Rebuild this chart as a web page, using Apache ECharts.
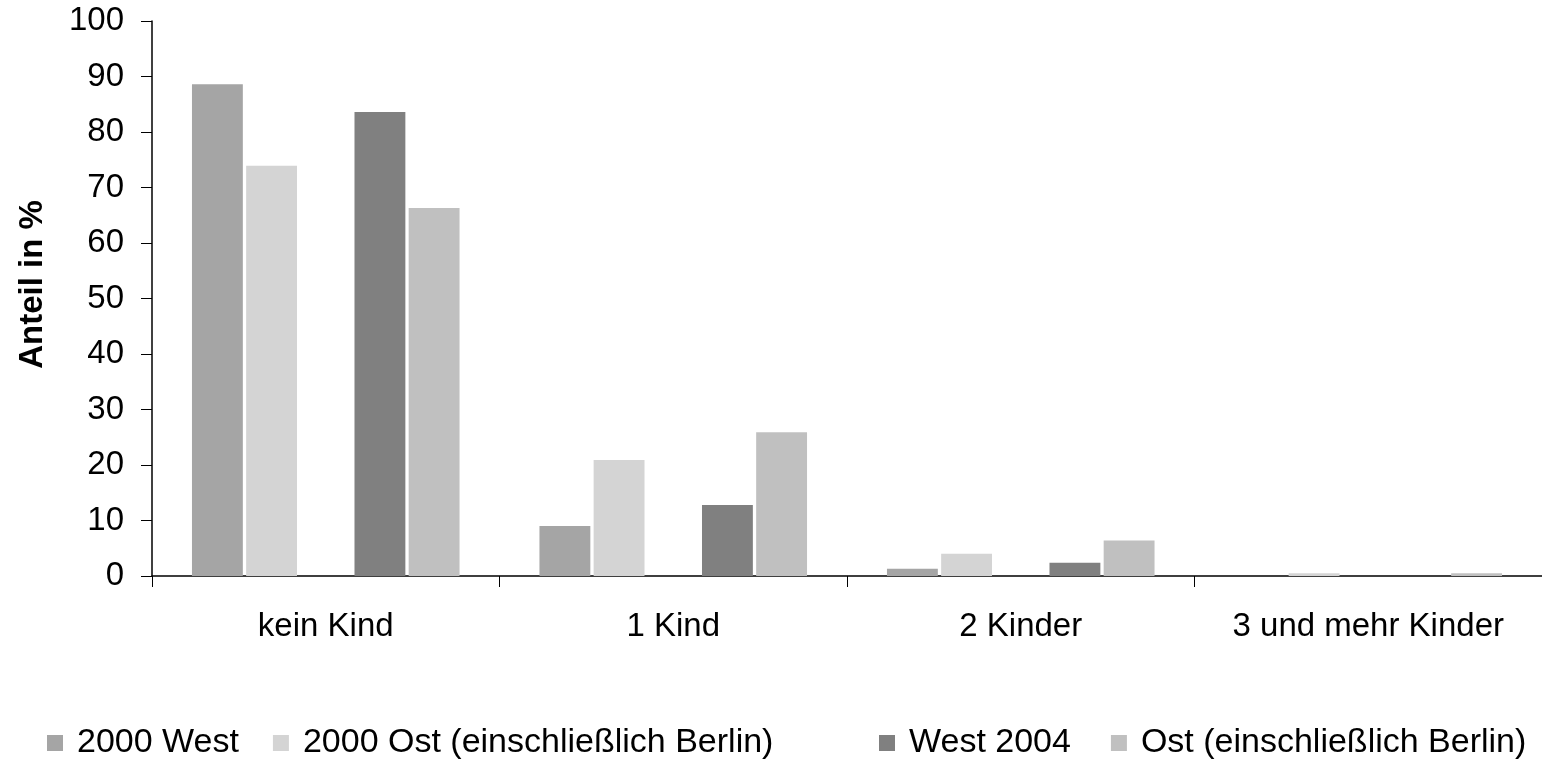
<!DOCTYPE html>
<html>
<head>
<meta charset="utf-8">
<script src="https://cdn.jsdelivr.net/npm/echarts@6/dist/echarts.min.js"></script>
<style>
  html, body { margin: 0; padding: 0; background: #fff; }
  #chart { width: 1542px; height: 761px; }
</style>
</head>
<body>
<div id="chart"></div>
<script>
// categories and values (Anteil in %)
const categories = ['kein Kind', '1 Kind', '2 Kinder', '3 und mehr Kinder']
const west2000 = [88.6, 9.0, 1.3, 0]
const ost2000 = [73.9, 20.9, 4.0, 0.5]
const west2004 = [83.6, 12.8, 2.4, 0]
const ost2004 = [66.3, 25.9, 6.4, 0.5]
const yTicks = [0, 100, 10] // min, max, interval

const font = 'Liberation Sans, Arial, sans-serif'

const chart = echarts.init(document.getElementById('chart'))

function bar(name, data, color) {
  return {
    name: name,
    type: 'bar',
    data: data,
    barGap: '6.5%',
    barCategoryGap: '23%',
    itemStyle: { color: color },
    animation: false
  }
}

chart.setOption({
  backgroundColor: '#fff',
  textStyle: { fontFamily: font },
  // axis runs a little past the right edge, like the original
  grid: { left: 152, width: 1397, top: 21, bottom: 185 },
  legend: [
    {
      left: 42, top: 721,
      itemWidth: 16, itemHeight: 16, itemGap: 34,
      icon: 'rect',
      data: ['2000 West', '2000 Ost (einschließlich Berlin)'],
      textStyle: { fontSize: 34, color: '#000', fontFamily: font, padding: [0, 0, 0, 9] }
    },
    {
      left: 874, top: 721,
      itemWidth: 16, itemHeight: 16, itemGap: 40,
      icon: 'rect',
      data: ['West 2004', 'Ost (einschließlich Berlin)'],
      textStyle: { fontSize: 34, color: '#000', fontFamily: font, padding: [0, 0, 0, 9] }
    }
  ],
  xAxis: {
    type: 'category',
    data: categories,
    axisLine: { lineStyle: { color: '#000', width: 1.5 } },
    axisTick: { show: true, interval: 0, length: 11, lineStyle: { color: '#000' } },
    axisLabel: { interval: 0, fontSize: 33, color: '#000', margin: 34, fontFamily: font }
  },
  yAxis: {
    type: 'value',
    min: yTicks[0],
    max: yTicks[1],
    interval: yTicks[2],
    name: 'Anteil in %',
    nameLocation: 'middle',
    nameGap: 103,
    nameRotate: 90,
    nameTextStyle: { fontSize: 33, fontWeight: 'bold', color: '#000', fontFamily: font, padding: [0, 0, 0, 28] },
    splitLine: { show: false },
    axisLine: { show: true, lineStyle: { color: '#000', width: 1.5 } },
    axisTick: { show: true, length: 11, lineStyle: { color: '#000' } },
    axisLabel: { fontSize: 33, color: '#000', margin: 28, fontFamily: font }
  },
  series: [
    bar('2000 West', west2000, '#a5a5a5'),
    bar('2000 Ost (einschließlich Berlin)', ost2000, '#d4d4d4'),
    bar('leer', categories.map(() => null), '#ffffff'),
    bar('West 2004', west2004, '#808080'),
    bar('Ost (einschließlich Berlin)', ost2004, '#c0c0c0')
  ]
})
</script>
</body>
</html>
